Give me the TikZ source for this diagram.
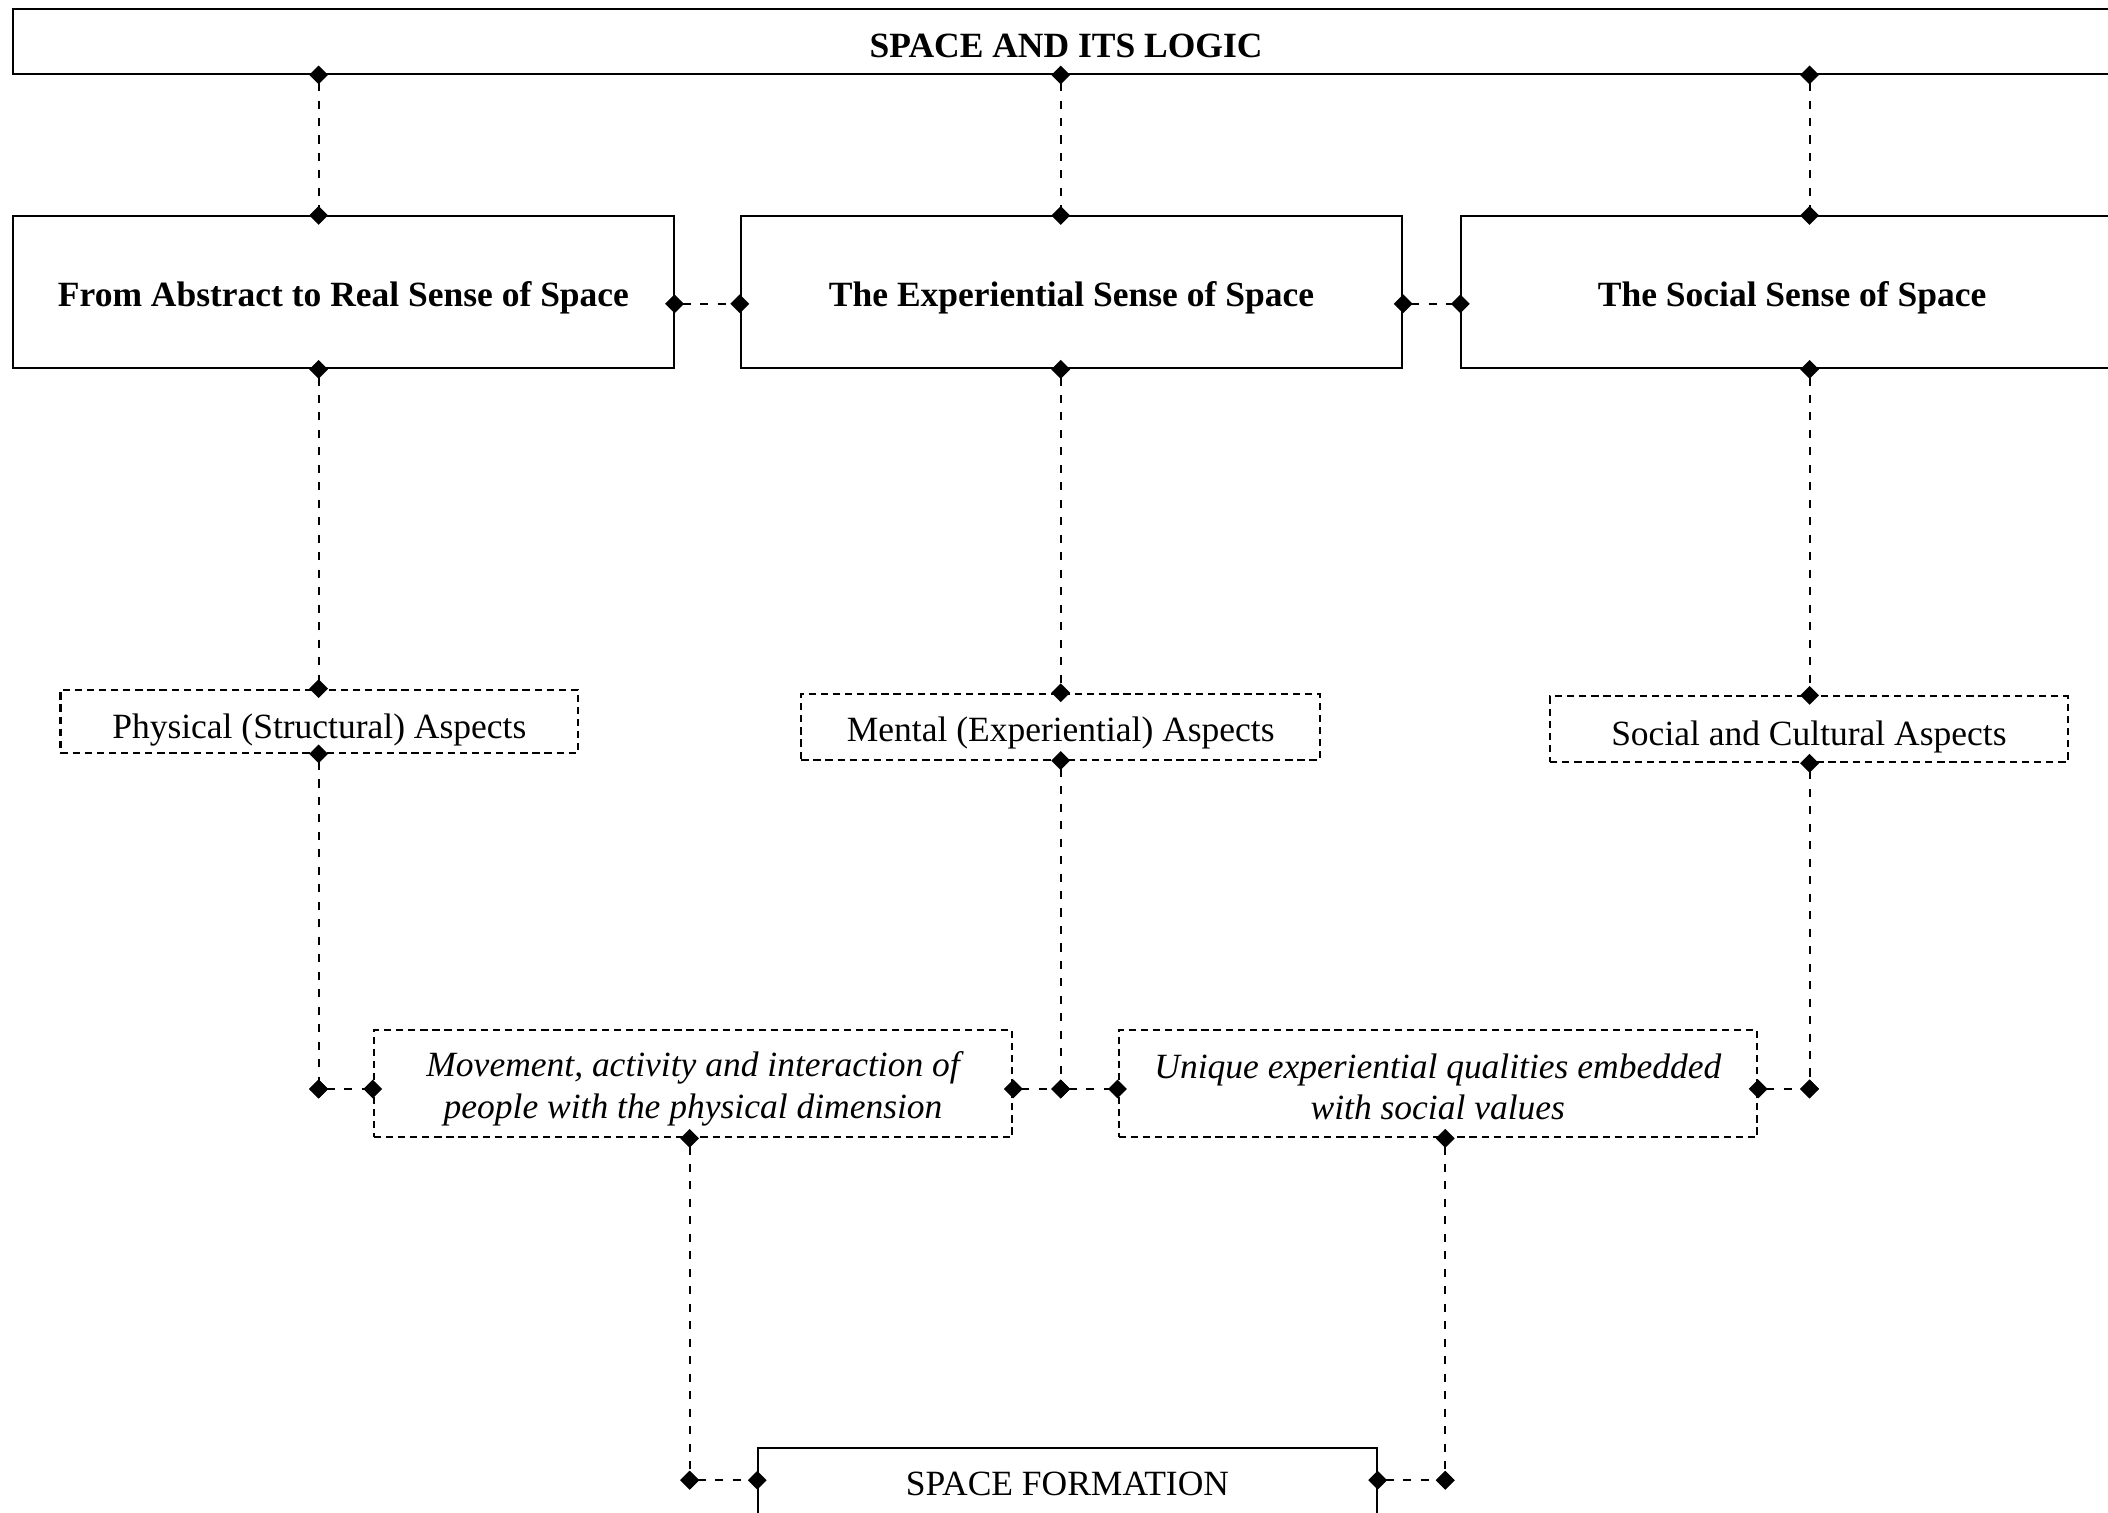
\documentclass[tikz,border=0pt]{standalone}
\usepackage{fontspec}
\setmainfont{Liberation Serif}
\usetikzlibrary{arrows.meta}
% lower a line of node text by #1 (adds a strut above it)
\newcommand\liftby[2]{\setbox0=\hbox{#2}\rule{0pt}{\dimexpr\ht0+#1*2\relax}#2}
\begin{document}
\begin{tikzpicture}[x=0.5pt,y=-0.5pt,
  txt/.style={font=\fontsize{13.2}{15.5}\selectfont},
  solidbox/.style={draw, line width=0.75pt, inner sep=0pt, align=center, txt},
  headbox/.style={solidbox, font=\fontsize{13.2}{15.5}\selectfont\bfseries},
  dashbox/.style={draw, line width=0.75pt, dash pattern=on 2.7pt off 1.8pt, inner sep=0pt, align=center, txt},
  itbox/.style={dashbox, font=\fontsize{13.2}{15.5}\selectfont\itshape},
  conn/.style={line width=0.7pt, dash pattern=on 3pt off 3.5pt,
    {Diamond[length=7pt,width=7pt]}-{Diamond[length=7pt,width=7pt]},
    shorten <=-3.5pt, shorten >=-3.5pt}
]
\clip (0,0) rectangle (1568,1125);
\fill[white] (0,0) rectangle (1568,1125);

% column guides and junction points
\coordinate (c1) at (237,0);
\coordinate (c2) at (789,0);
\coordinate (c3) at (1346,0);
\coordinate (c4) at (513,0);
\coordinate (c5) at (1075,0);
\coordinate (hy) at (0,226);
\coordinate (j1) at (237,810);
\coordinate (j2) at (789,810);
\coordinate (j3) at (1346,810);
\coordinate (j4) at (513,1101);
\coordinate (j5) at (1075,1101);

% title bar
\node[headbox, minimum width=783pt, minimum height=24pt] (top) at (793,31) {\liftby{1.5pt}{SPACE AND ITS LOGIC}};

% three senses of space
\node[headbox, minimum width=245.5pt, minimum height=56.5pt] (b1) at (255.5,217.5) {\liftby{2pt}{From Abstract to Real Sense of Space}};
\node[headbox, minimum width=246pt, minimum height=56.5pt] (b2) at (797,217.5) {\liftby{2pt}{The Experiential Sense of Space}};
\node[headbox, minimum width=246pt, minimum height=56.5pt] (b3) at (1333,217.5) {\liftby{2pt}{The Social Sense of Space}};

% aspects
\node[dashbox, minimum width=192.5pt, minimum height=23.5pt] (phys) at (237.5,536.5) {\liftby{3.2pt}{Physical (Structural) Aspects}};
\node[dashbox, minimum width=193pt, minimum height=24.5pt] (ment) at (789,540.5) {\liftby{2.5pt}{Mental (Experiential) Aspects}};
\node[dashbox, minimum width=192.5pt, minimum height=24.5pt] (soc) at (1345.5,542.5) {\liftby{3pt}{Social and Cultural Aspects}};

% combined qualities
\node[itbox, minimum width=237.5pt, minimum height=40pt] (mov) at (515.5,806)
  {\liftby{2pt}{Movement, activity and interaction of}\\people with the physical dimension};
\node[itbox, minimum width=237.5pt, minimum height=40pt] (uni) at (1069.5,806)
  {\liftby{1.2pt}{Unique experiential qualities embedded}\\with social values};

% result
\node[solidbox, minimum width=230pt, minimum height=26pt] (form) at (794,1103) {\liftby{0.5pt}{SPACE FORMATION}};

% title to senses
\draw[conn] (top.south -| c1) -- (b1.north -| c1);
\draw[conn] (top.south -| c2) -- (b2.north -| c2);
\draw[conn] (top.south -| c3) -- (b3.north -| c3);

% links between senses
\draw[conn] (b1.east |- hy) -- (b2.west |- hy);
\draw[conn] (b2.east |- hy) -- (b3.west |- hy);

% senses to aspects
\draw[conn] (b1.south -| c1) -- (phys.north -| c1);
\draw[conn] (b2.south -| c2) -- (ment.north -| c2);
\draw[conn] (b3.south -| c3) -- (soc.north -| c3);

% aspects to combined qualities
\draw[conn] (phys.south -| c1) -- (j1);
\draw[conn] (j1) -- (mov.west |- j1);
\draw[conn] (ment.south -| c2) -- (j2);
\draw[conn] (mov.east |- j2) -- (j2);
\draw[conn] (j2) -- (uni.west |- j2);
\draw[conn] (soc.south -| c3) -- (j3);
\draw[conn] (uni.east |- j3) -- (j3);

% combined qualities to space formation
\draw[conn] (mov.south -| c4) -- (j4);
\draw[conn] (j4) -- (form.west |- j4);
\draw[conn] (uni.south -| c5) -- (j5);
\draw[conn] (form.east |- j5) -- (j5);
\end{tikzpicture}
\end{document}
